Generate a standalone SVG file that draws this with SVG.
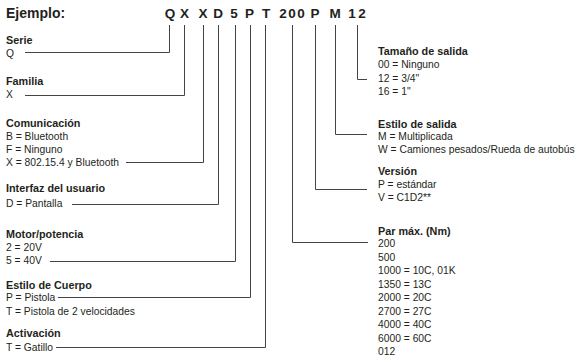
<svg xmlns="http://www.w3.org/2000/svg" width="583" height="357" viewBox="0 0 583 357">
<style>
text{font-family:"Liberation Sans",Arial,sans-serif;fill:#231f20;font-size:10.3px}
.h{font-weight:bold;font-size:10.8px}
.t{font-weight:bold;font-size:14px}
.c{font-weight:bold;font-size:13.5px;text-anchor:middle}
.ln{fill:none;stroke:#444;stroke-width:1}
</style>
<rect width="583" height="357" fill="#fff"/>
<g id="title">
<text class="t" x="6" y="18">Ejemplo:</text>
<text class="c" x="170" y="18">Q</text>
<text class="c" x="184.5" y="18">X</text>
<text class="c" x="203" y="18">X</text>
<text class="c" x="218" y="18">D</text>
<text class="c" x="234" y="18">5</text>
<text class="c" x="249.5" y="18">P</text>
<text class="c" x="266" y="18">T</text>
<text class="c" x="283" y="18">2</text>
<text class="c" x="292" y="18">0</text>
<text class="c" x="301" y="18">0</text>
<text class="c" x="315" y="18">P</text>
<text class="c" x="335" y="18">M</text>
<text class="c" x="352" y="18">1</text>
<text class="c" x="362" y="18">2</text>
</g>
<g id="connectors">
<path class="ln" d="M169.5 25V52.5H25"/>
<path class="ln" d="M184.5 25V95.5H25"/>
<path class="ln" d="M203.5 25V162.5H126"/>
<path class="ln" d="M218.5 25V204.5H72"/>
<path class="ln" d="M235.5 25V261.5H50"/>
<path class="ln" d="M250.5 25V297.5H58"/>
<path class="ln" d="M265.5 25V347.5H56"/>
<path class="ln" d="M292.5 25V242.5H368"/>
<path class="ln" d="M315.5 25V189.5H367"/>
<path class="ln" d="M335.5 25V134.5H367"/>
<path class="ln" d="M357.5 25V79.5H367"/>
</g>
<g id="serie">
<text class="h" x="6" y="44">Serie</text>
<text x="6" y="57">Q</text>
</g>
<g id="familia">
<text class="h" x="6" y="85">Familia</text>
<text x="6" y="98">X</text>
</g>
<g id="comunicacion">
<text class="h" x="6" y="127">Comunicación</text>
<text x="6" y="140">B = Bluetooth</text>
<text x="6" y="153">F = Ninguno</text>
<text x="6" y="166">X = 802.15.4 y Bluetooth</text>
</g>
<g id="interfaz">
<text class="h" x="6" y="192">Interfaz del usuario</text>
<text x="6" y="207">D = Pantalla</text>
</g>
<g id="motor">
<text class="h" x="6" y="238">Motor/potencia</text>
<text x="6" y="251">2 = 20V</text>
<text x="6" y="264">5 = 40V</text>
</g>
<g id="estilo-cuerpo">
<text class="h" x="6" y="289">Estilo de Cuerpo</text>
<text x="6" y="301">P = Pistola</text>
<text x="6" y="315">T = Pistola de 2 velocidades</text>
</g>
<g id="activacion">
<text class="h" x="6" y="337">Activación</text>
<text x="6" y="351">T = Gatillo</text>
</g>
<g id="tamano">
<text class="h" x="378" y="55">Tamaño de salida</text>
<text x="378" y="68">00 = Ninguno</text>
<text x="378" y="82">12 = 3/4"</text>
<text x="378" y="95">16 = 1"</text>
</g>
<g id="estilo-salida">
<text class="h" x="378" y="128">Estilo de salida</text>
<text x="378" y="140">M = Multiplicada</text>
<text x="378" y="153">W = Camiones pesados/Rueda de autobús</text>
</g>
<g id="version">
<text class="h" x="378" y="175">Versión</text>
<text x="378" y="188">P = estándar</text>
<text x="378" y="201">V = C1D2**</text>
</g>
<g id="par">
<text class="h" x="378" y="235">Par máx. (Nm)</text>
<text x="378" y="247">200</text>
<text x="378" y="260.5">500</text>
<text x="378" y="274">1000 = 10C, 01K</text>
<text x="378" y="287.5">1350 = 13C</text>
<text x="378" y="301">2000 = 20C</text>
<text x="378" y="314.5">2700 = 27C</text>
<text x="378" y="328">4000 = 40C</text>
<text x="378" y="341.5">6000 = 60C</text>
<text x="378" y="355">012</text>
</g>
</svg>
